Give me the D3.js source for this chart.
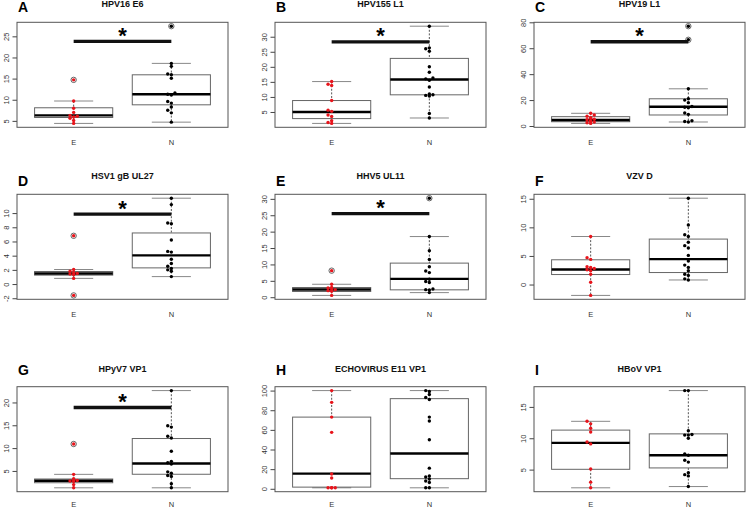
<!DOCTYPE html>
<html>
<head>
<meta charset="utf-8">
<script src="https://cdn.jsdelivr.net/npm/d3@7"></script>
<style>
  body { margin: 0; background: #fff; }
  svg { display: block; }
  text { font-family: "Liberation Sans", Arial, Helvetica, sans-serif; }
</style>
</head>
<body>
<svg id="chart"></svg>
<script>
// panel labels and titles
const letters = ["A", "B", "C", "D", "E", "F", "G", "H", "I"];
const titles = ["HPV16 E6", "HPV155 L1", "HPV19 L1", "HSV1 gB UL27", "HHV5 UL11",
  "VZV D", "HPyV7 VP1", "ECHOVIRUS E11 VP1", "HBoV VP1"];
const groups = ["E", "N"];

// individual values, group E (red) and N (black)
const ePoints = [
  [14.7, 9.7, 8.0, 7.0, 6.3, 6.1, 5.9, 5.6, 5.1, 4.4],
  [15.1, 14.2, 13.8, 8.8, 5.6, 5.2, 4.0, 3.5, 2.1, 1.5, 1.2],
  [9.8, 8.5, 7.5, 6.5, 6.0, 5.2, 4.8, 4.0, 3.5, 3.0, 2.5, 2.0],
  [6.8, 2.05, 1.8, 1.6, 1.5, 1.4, 1.3, 0.8, -1.6],
  [8.1, 3.95, 3.0, 2.8, 2.5, 2.3, 2.0, 1.8, 0.55],
  [8.4, 4.7, 4.4, 3.1, 3.0, 2.8, 2.6, 2.4, 1.8, 0.4, -1.9],
  [10.9, 4.25, 3.3, 3.0, 2.9, 2.8, 2.7, 2.0, 1.3],
  [100, 88, 73, 57.5, 15, 11, 1, 1, 1, 1],
  [12.7, 12.3, 11.6, 11.0, 9.4, 9.1, 5.1, 3.0, 2.1]
];
const nPoints = [
  [27.4, 18.6, 17.9, 16.1, 15.9, 15.1, 11.6, 11.3, 11.1, 9.6, 9.2, 8.3, 7.5, 6.9, 4.7],
  [33.5, 26.3, 26.0, 25.2, 20.0, 18.2, 16.3, 16.0, 15.5, 13.3, 11.0, 10.7, 10.5, 10.3, 4.5, 3.0],
  [77, 66.5, 28.7, 21, 20, 18, 15, 14.5, 14, 10, 9, 4, 3.5, 3.1],
  [12.1, 11.2, 8.6, 8.5, 6.2, 4.6, 4.5, 3.5, 2.9, 2.5, 2.2, 2.0, 1.8, 1.05],
  [30.2, 18.5, 14.2, 11.5, 9.3, 8.0, 7.5, 5.5, 4.8, 4.5, 2.5, 2.3, 2.2, 1.4],
  [15.1, 10.4, 8.7, 8.4, 7.4, 6.8, 6.4, 5.1, 4.1, 3.4, 3.0, 2.4, 1.8, 1.6, 1.0, 0.8],
  [22.6, 14.9, 14.6, 12.6, 12.2, 9.3, 7.1, 6.8, 6.5, 4.8, 4.5, 4.0, 3.8, 2.2, 1.3],
  [100, 99, 96, 93, 91, 73, 69, 50, 21, 13, 12, 10, 8, 6.5, 1, 1],
  [17.6, 17.6, 11.2, 10.6, 10.5, 10.5, 10.0, 7.5, 7.3, 6.5, 6.2, 4.5, 4.2, 4.0, 2.3]
];

// box stats: [lower whisker, q1, median, q3, upper whisker]
const eBox = [
  [4.4, 5.8, 6.3, 8.1, 9.7],
  [1.2, 2.8, 5.0, 8.8, 15.1],
  [2.0, 3.3, 4.6, 7.2, 9.8],
  [0.8, 1.26, 1.49, 1.77, 2.05],
  [0.55, 1.74, 2.35, 2.96, 3.95],
  [-1.9, 1.75, 2.63, 4.33, 8.4],
  [1.3, 2.41, 2.85, 3.23, 4.25],
  [1, 1.7, 15.4, 73, 100],
  [2.1, 5.05, 9.27, 11.3, 12.7]
];
const nBox = [
  [4.7, 8.8, 11.3, 15.9, 18.6],
  [3.0, 10.7, 15.8, 22.8, 33.5],
  [3.1, 8.5, 14.9, 21, 28.7],
  [1.05, 2.28, 4.04, 7.2, 12.1],
  [1.4, 2.25, 5.6, 10.4, 18.5],
  [0.8, 2.1, 4.44, 7.95, 15.1],
  [1.3, 4.27, 6.62, 12.1, 22.6],
  [1, 10.3, 36, 91.8, 100],
  [2.3, 5.27, 7.28, 10.7, 17.6]
];

// y axis tick labels
const yTicks = [
  [5, 10, 15, 20, 25],
  [5, 10, 15, 20, 25, 30],
  [0, 20, 40, 60, 80],
  [-2, 0, 2, 4, 6, 8, 10],
  [0, 5, 10, 15, 20, 25, 30],
  [0, 5, 10, 15],
  [5, 10, 15, 20],
  [0, 20, 40, 60, 80, 100],
  [5, 10, 15]
];

// level of the significance bar (null = no bar)
const sigY = [23.8, 28.3, 65, 9.86, 25.5, null, 18.9, null, null];

const width = 747;
const height = 509;
const colLeft = [17, 275, 534];
const rowTop = [22.3, 194.3, 386.7];
const letterGap = [10.3, 8.5, 11.7];
const plotW = 211;
const plotH = 105;

const svg = d3.select("#chart").attr("width", width).attr("height", height);
svg.append("rect").attr("width", width).attr("height", height).attr("fill", "#fff");

// small beeswarm so that equal values do not sit on each other
function dodge(vals, y) {
  const placed = [];
  const offs = [0, -1.8, 1.8, -3.6, 3.6, -5.4, 5.4];
  d3.sort(vals).forEach((v) => {
    const py = y(v);
    const dx = offs.find((o) => !placed.some((p) => Math.abs(p.py - py) < 2.6 && Math.abs(p.dx - o) < 2.6));
    placed.push({ v, py, dx: dx === undefined ? 0 : dx });
  });
  return placed;
}

letters.forEach((letter, i) => {
  const row = Math.floor(i / 3);
  const x0 = colLeft[i % 3];
  const y0 = rowTop[row];
  const g = svg.append("g").attr("transform", `translate(${x0},${y0})`);

  const all = [...ePoints[i], ...nPoints[i], ...eBox[i], ...nBox[i]];
  const [lo, hi] = d3.extent(all);
  const pad = (hi - lo) * 0.04;
  const y = d3.scaleLinear().domain([lo - pad, hi + pad]).range([plotH, 0]);
  const x = d3.scalePoint().domain(groups).range([0, plotW]).padding(0.58);
  const bw = x.step() * 0.8;

  // panel letter and title
  svg.append("text")
    .attr("x", x0 + 1)
    .attr("y", y0 - letterGap[row])
    .attr("font-size", 14)
    .attr("font-weight", "bold")
    .text(letter);
  g.append("text")
    .attr("x", plotW / 2)
    .attr("y", -15)
    .attr("text-anchor", "middle")
    .attr("font-size", 9)
    .attr("font-weight", "bold")
    .attr("fill", "#111")
    .text(titles[i]);

  // y axis
  const ax = g.append("g").call(
    d3.axisLeft(y).tickValues(yTicks[i]).tickSize(4.5).tickFormat((d) => String(d))
  );
  ax.select(".domain").remove();
  ax.selectAll(".tick line").attr("stroke", "#444");
  ax.selectAll(".tick text")
    .attr("x", 0)
    .attr("y", 0)
    .attr("dy", "0.35em")
    .attr("text-anchor", "middle")
    .attr("transform", "translate(-11,0) rotate(-90)")
    .attr("font-size", 7.5)
    .attr("font-family", null)
    .attr("fill", "#333");

  // x labels (kept inside the picture on the last row)
  const labY = Math.min(plotH + 17.5, height - y0 - 1.5);
  g.selectAll(".xlab")
    .data(groups)
    .join("text")
    .attr("x", (d) => x(d))
    .attr("y", labY)
    .attr("text-anchor", "middle")
    .attr("font-size", 7.5)
    .attr("fill", "#333")
    .text((d) => d);

  // frame
  g.append("rect")
    .attr("width", plotW)
    .attr("height", plotH)
    .attr("fill", "none")
    .attr("stroke", "#555");

  [eBox[i], nBox[i]].forEach((s, k) => {
    const cx = x(groups[k]);
    const [wLo, q1, med, q3, wHi] = s;
    // dashed whiskers
    [[wHi, q3], [q1, wLo]].forEach(([a, b]) => {
      g.append("line")
        .attr("x1", cx).attr("x2", cx)
        .attr("y1", y(a)).attr("y2", y(b))
        .attr("stroke", "#555")
        .attr("stroke-dasharray", "2,1.6");
    });
    // caps
    [wLo, wHi].forEach((v) => {
      g.append("line")
        .attr("x1", cx - bw / 4).attr("x2", cx + bw / 4)
        .attr("y1", y(v)).attr("y2", y(v))
        .attr("stroke", "#888");
    });
    g.append("rect")
      .attr("x", cx - bw / 2)
      .attr("y", y(q3))
      .attr("width", bw)
      .attr("height", y(q1) - y(q3))
      .attr("fill", "none")
      .attr("stroke", "#666");
    g.append("line")
      .attr("x1", cx - bw / 2).attr("x2", cx + bw / 2)
      .attr("y1", y(med)).attr("y2", y(med))
      .attr("stroke", "#000")
      .attr("stroke-width", 2.4);
  });

  // points
  [ePoints[i], nPoints[i]].forEach((vals, k) => {
    const cx = x(groups[k]);
    const s = k === 0 ? eBox[i] : nBox[i];
    const col = k === 0 ? "#e8141b" : "#000";
    const pts = dodge(vals, y);
    g.selectAll(null)
      .data(pts.filter((p) => p.v < s[0] || p.v > s[4]))
      .join("circle")
      .attr("cx", cx)
      .attr("cy", (p) => p.py)
      .attr("r", 2.7)
      .attr("fill", "none")
      .attr("stroke", "#555")
      .attr("stroke-width", 0.9);
    g.selectAll(null)
      .data(pts)
      .join("circle")
      .attr("cx", (p) => cx + p.dx)
      .attr("cy", (p) => p.py)
      .attr("r", 1.7)
      .attr("fill", col);
  });

  // significance bar and star
  if (sigY[i] !== null) {
    const by = y(sigY[i]);
    g.append("line")
      .attr("x1", x("E")).attr("x2", x("N"))
      .attr("y1", by).attr("y2", by)
      .attr("stroke", "#111")
      .attr("stroke-width", 3.4);
    g.append("text")
      .attr("x", (x("E") + x("N")) / 2)
      .attr("y", by + 1.5)
      .attr("text-anchor", "middle")
      .attr("font-size", 22)
      .attr("font-weight", "bold")
      .text("*");
  }
});
</script>
</body>
</html>
